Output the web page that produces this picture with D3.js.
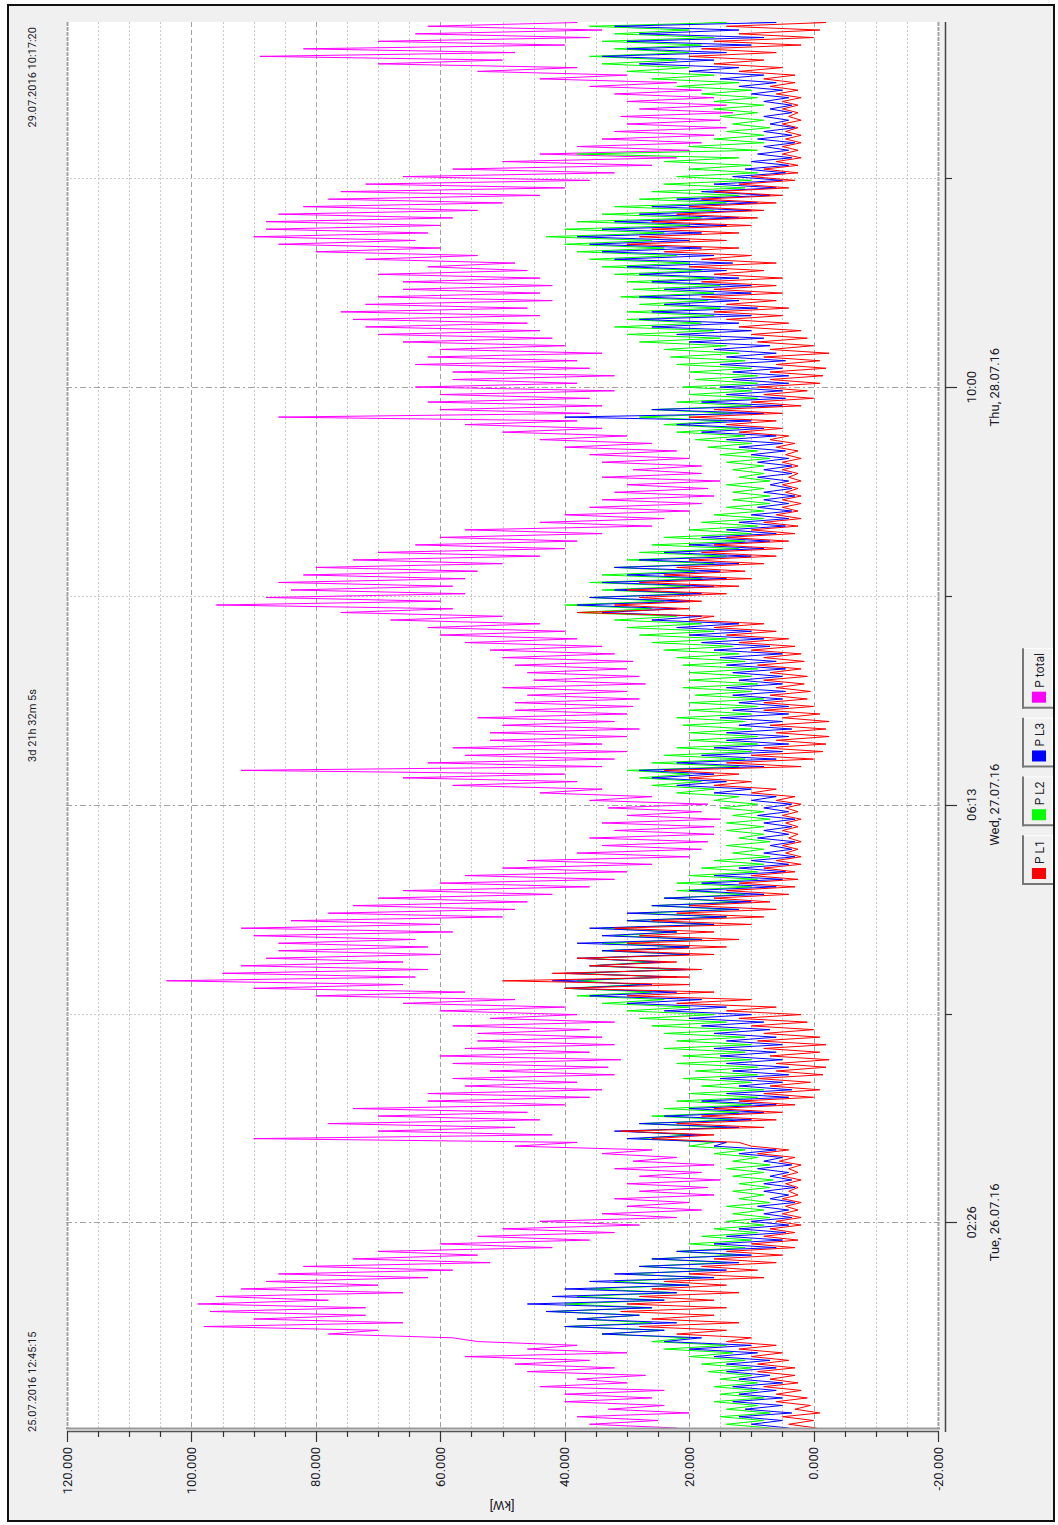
<!DOCTYPE html>
<html>
<head>
<meta charset="utf-8">
<script src="https://cdn.jsdelivr.net/npm/d3@7"></script>
<style>
  html, body { margin: 0; padding: 0; background: #ffffff; }
  svg { display: block; }
  text { font-family: Roboto, "Liberation Sans", sans-serif; fill: #1c1c2a; }
</style>
</head>
<body>
<svg id="chart" width="1058" height="1525"></svg>
<script>
// Power per 30-minute window: lowest and highest reading (kW, thousands)
const stepMinutes = 30;
const startTime = new Date(2016, 6, 25, 12, 45, 15);
const endTime = new Date(2016, 6, 29, 10, 17, 20);

const pTotalLow = [
  22,25,20,24, 26,24,30,27, 32,36,30,38, 58,70,66,72,
  72,78,66,70, 62,58,52,54, 42,36,32,28, 22,18,20,16,
  17,15,18,16, 22,26,38,42, 48,44,46,40, 36,34,38,32,
  33,31,36,32, 34,36,32,38, 40,48,56,66, 64,62,66,60,
  62,64,58,60, 50,48,46,42, 36,32,30,26, 20,18,17,16,
  16,15,18,17, 26,34,38,40, 34,32,30,34, 30,28,32,30,
  29,28,30,27, 28,30,29,32, 34,38,40,44, 50,58,60,56,
  58,56,54,50, 44,40,38,34, 26,24,20,18, 16,17,15,18,
  18,20,22,26, 30,34,38,36, 34,36,32,38, 32,36,38,34,
  40,42,44,46, 44,46,42,44, 42,44,46,48, 54,60,64,62,
  60,58,54,50, 44,40,36,32, 26,22,20,18, 16,14,15,13,
  14,16,18,22, 30,38,50,48, 40,36,34,38
];
const pTotalHigh = [
  36,38,33,40, 40,44,38,46, 48,56,46,54, 78,98,90,97,
  99,96,92,88, 86,82,74,70, 60,54,50,44, 34,30,32,28,
  30,28,32,29, 34,48,90,70, 78,70,74,62, 62,56,58,52,
  58,60,56,54, 54,58,52,60, 66,80,90,104, 95,92,88,86,
  86,90,92,84, 78,74,70,66, 60,56,50,46, 38,34,36,32,
  34,30,33,36, 44,58,66,92, 62,56,58,52, 52,50,54,48,
  48,46,50,45, 46,48,50,52, 56,60,62,68, 76,96,88,84,
  86,82,80,74, 70,64,60,56, 44,40,36,34, 32,30,34,29,
  34,36,40,44, 50,56,86,60, 62,60,64,58, 58,64,62,60,
  66,70,72,74, 76,72,70,66, 66,70,62,72, 80,86,90,88,
  88,86,82,78, 76,72,66,58, 50,44,38,34, 32,30,31,28,
  30,32,36,44, 54,70,89,82, 70,64,62,42
];

const pL1Low = [
  -0.5,0,-1,0.5, 1,2,2.5,3, 3,4,5,6, 10,14,12,16,
  14,16,12,14, 8,9,6,5, 3,2.5,3,2, 2,2.5,2,2.5,
  2.5,2,2.5,2, 3,4,12,16, 8,6,5,3, 0,-1,0.5,-1.5,
  -2,-2.5,-1,-2, -1,0,1,2, 6,10,16,20, 20,18,22,16,
  14,12,16,10, 8,6,7,4, 3,2.5,3,2, 2,2.5,2,2.5,
  2.5,2,2.5,2, 3,6,10,12, 2,0,-1.5,-2, -2.5,-2,-2.5,-1,
  0,1,0.5,1.5, 1,2,1.5,2, 3,4,6,8, 16,20,18,14,
  12,10,11,8, 6,5,4,3, 2.5,2,2.5,2, 2,2.5,2,2.5,
  2.5,2,2.5,3, 4,5,6,5, 2,0,1,-1, -1.5,-2,-1,-2.5,
  0,1,2,4, 5,4,6,5, 6,5,8,6, 10,12,14,12,
  10,9,8,6, 5,4,3,2.5, 2.5,2,2.5,2, 2,2.5,2,2.5,
  2.5,2,2.5,3, 3,5,8,6, 2,0,-1,-2
];
const pL1High = [
  4,5,3,6, 6,8,7,9, 9,10,12,14, 22,28,26,31,
  30,28,26,24, 20,18,16,14, 10,8,7,6, 5,4.5,5,4,
  4.5,5,4,5.5, 9,10,26,31, 22,18,16,12, 8,7,9,6,
  6,7,8,9, 8,10,12,14, 22,30,40,50, 42,36,38,32,
  30,28,32,26, 22,20,16,14, 12,10,8,6, 4.5,5,4,5,
  4.5,5,4.5,6, 10,16,20,24, 14,10,8,6, 6,7,5,8,
  8,7,6,8, 7,9,8,10, 12,14,16,20, 38,32,28,30,
  28,24,22,20, 18,16,14,10, 8,6,5,5, 4.5,5,4,5,
  5,4.5,6,7, 12,14,20,16, 10,8,9,7, 7,6,8,7,
  9,10,12,14, 16,14,18,16, 18,16,20,18, 24,30,28,26,
  26,22,20,18, 16,12,10,8, 6,5,5,4.5, 4.5,5,4,5,
  5,6,7,8, 12,16,20,18, 16,12,14,8
];

const pL2Low = [
  7,8,7,9, 8,9,9,10, 10,11,13,14, 20,24,26,28,
  26,24,22,20, 18,16,14,12, 11,10,9,8, 7,8,7,8,
  7,6.5,8,7, 9,11,16,20, 14,13,12,10, 9,8,10,9,
  9,10,11,10, 11,12,14,16, 20,24,26,28, 24,22,26,20,
  20,18,22,16, 14,13,12,11, 10,9,9,8, 7,8,7,8,
  8,7,8,9, 12,16,18,20, 12,11,10,9, 9,10,11,10,
  9,8,10,9, 10,9,11,12, 13,14,16,18, 22,26,24,20,
  20,18,19,16, 14,12,11,10, 9,8,8,7, 7,8,7,8,
  8,7,9,10, 11,12,14,13, 10,9,10,9, 9,10,11,12,
  14,15,16,18, 16,15,17,16, 15,16,18,20, 22,24,26,24,
  20,18,16,14, 12,11,10,9, 10,12,9,8, 8,7,8,9,
  8,9,10,12, 16,20,22,20, 18,16,20,14
];
const pL2High = [
  14,15,14,16, 15,16,15,17, 18,20,24,26, 34,40,38,42,
  40,38,36,32, 30,28,26,22, 20,18,16,14, 13,14,12,13,
  12,13,14,13, 16,20,28,30, 28,26,24,22, 20,18,21,19,
  22,21,24,22, 24,26,28,30, 34,38,40,38, 38,36,36,34,
  34,32,34,30, 28,26,24,22, 22,20,18,16, 13,14,12,14,
  14,13,15,16, 22,26,28,30, 26,24,22,20, 20,21,22,20,
  20,19,21,20, 20,21,22,24, 26,28,30,32, 38,40,36,34,
  36,34,32,30, 28,26,24,20, 18,16,14,13, 13,14,12,13,
  14,15,17,19, 22,24,28,26, 22,20,21,19, 20,22,23,24,
  28,30,32,30, 30,28,31,29, 30,32,34,36, 38,40,43,40,
  38,34,32,28, 26,24,22,20, 24,38,20,16, 14,13,15,16,
  16,18,22,26, 30,34,36,32, 34,32,36,28
];

const pL3Low = [
  4,5,3.5,5, 5,6,5,7, 6,7,9,10, 18,24,22,28,
  26,24,22,20, 16,14,12,10, 6,5,4.5,4, 3.5,4,3,4,
  3,3.5,4,3.5, 5,6,14,18, 12,10,8,6, 4,3.5,5,4,
  4,5,6,5, 6,7,8,10, 14,18,22,26, 22,20,24,20,
  20,18,22,16, 14,12,10,8, 6,5,4.5,4, 3,3.5,3,4,
  3.5,3,4,3.5, 6,10,14,16, 8,6,5,4, 4,3.5,5,4,
  4,5,4.5,5, 5,4.5,6,5, 7,8,10,12, 18,22,20,18,
  16,14,15,12, 10,8,7,6, 4.5,4,3.5,4, 3,3.5,4,3.5,
  3.5,4,4.5,5, 6,8,10,8, 5,4.5,5,4, 4,5,4.5,6,
  7,8,10,12, 10,9,12,10, 10,12,14,13, 16,18,20,18,
  14,12,10,9, 7,6,5,4.5, 4,3.5,4,3, 3.5,3,4,3.5,
  3.5,4,5,6, 8,12,16,14, 10,8,12,6
];
const pL3High = [
  10,12,11,13, 12,13,12,14, 14,16,20,24, 34,40,38,43,
  46,42,40,36, 32,28,26,22, 16,14,12,10, 8,9,7,8,
  8,7,9,8, 12,16,30,32, 28,24,20,18, 14,12,15,13,
  14,15,16,14, 16,18,20,24, 30,36,40,42, 40,36,38,34,
  38,34,36,30, 30,26,24,20, 18,16,12,10, 8,7,9,8,
  8,9,8,10, 16,22,26,28, 22,18,16,14, 14,12,15,13,
  12,13,14,12, 13,14,15,16, 18,20,22,26, 34,38,36,32,
  34,30,32,28, 24,20,18,14, 12,10,9,8, 8,7,9,8,
  9,10,12,14, 18,22,40,26, 18,14,15,13, 13,15,14,16,
  20,22,26,28, 26,24,28,24, 26,28,30,32, 34,36,38,34,
  32,28,26,22, 18,16,13,11, 10,9,8,9, 8,7,8,7,
  8,10,12,15, 20,28,34,30, 30,28,32,24
];

const seriesNames = ["P L1", "P L2", "P L3", "P total"];
const seriesColors = ["#ff0000", "#00ff00", "#0000ff", "#ff00ff"];
const seriesLow = [pL1Low, pL2Low, pL3Low, pTotalLow];
const seriesHigh = [pL1High, pL2High, pL3High, pTotalHigh];
const drawOrder = [3, 1, 2, 0];

const valueTicks = d3.range(-20, 121, 20);
const valueMinorTicks = d3.range(-20, 121, 5).filter(v => v % 20 !== 0);
const valueTickLabels = ["-20.000", "0.000", "20.000", "40.000", "60.000", "80.000", "100.000", "120.000"];

const timeMajorTicks = [
  new Date(2016, 6, 26, 2, 26), new Date(2016, 6, 27, 6, 13), new Date(2016, 6, 28, 10, 0)
];
const timeMinorTicks = [
  new Date(2016, 6, 26, 16, 19, 30), new Date(2016, 6, 27, 20, 6, 30), new Date(2016, 6, 28, 23, 53, 30)
];
const timeTickLabels = [
  ["02:26", "Tue, 26.07.16"], ["06:13", "Wed, 27.07.16"], ["10:00", "Thu, 28.07.16"]
];
const startLabel = "25.07.2016 12:45:15";
const endLabel = "29.07.2016 10:17:20";
const spanLabel = "3d 21h 32m 5s";
const unitLabel = "[kW]";

// Layout: time runs bottom-to-top, value runs right-to-left
const plot = { left: 66, right: 940, top: 22, bottom: 1429 };
const svg = d3.select("#chart");

const x = d3.scaleLinear().domain([-20, 120]).range([938, 67]);
const y = d3.scaleTime().domain([startTime, endTime]).range([1428, 22]);

// Frame and background
svg.append("rect").attr("x", 0).attr("y", 0).attr("width", 1058).attr("height", 1525).attr("fill", "#ffffff");
svg.append("rect").attr("x", 8).attr("y", 5).attr("width", 1046).attr("height", 1516)
  .attr("fill", "#f0f0f0").attr("stroke", "#111").attr("stroke-width", 2);
svg.append("rect").attr("x", plot.left).attr("y", plot.top)
  .attr("width", plot.right - plot.left).attr("height", plot.bottom - plot.top).attr("fill", "#ffffff");

svg.append("clipPath").attr("id", "plotClip").append("rect")
  .attr("x", plot.left).attr("y", plot.top)
  .attr("width", plot.right - plot.left).attr("height", plot.bottom - plot.top);

// Grid
const grid = svg.append("g");
grid.selectAll(".vminor").data(valueMinorTicks).join("line")
  .attr("x1", d => Math.round(x(d)) + 0.5).attr("x2", d => Math.round(x(d)) + 0.5)
  .attr("y1", plot.top).attr("y2", plot.bottom)
  .attr("stroke", "#c8c8c8").attr("stroke-dasharray", "2,2");
grid.selectAll(".vmajor").data(valueTicks).join("line")
  .attr("x1", d => Math.round(x(d)) + 0.5).attr("x2", d => Math.round(x(d)) + 0.5)
  .attr("y1", plot.top).attr("y2", plot.bottom)
  .attr("stroke", "#a0a0a0")
  .attr("stroke-width", d => (d === 120 || d === -20) ? 2 : 1)
  .attr("stroke-dasharray", d => (d === 120 || d === -20) ? "4,1" : "5,3");
grid.selectAll(".hminor").data(timeMinorTicks).join("line")
  .attr("x1", plot.left).attr("x2", plot.right)
  .attr("y1", d => Math.round(y(d)) + 0.5).attr("y2", d => Math.round(y(d)) + 0.5)
  .attr("stroke", "#c8c8c8").attr("stroke-dasharray", "2,2");
grid.selectAll(".hmajor").data(timeMajorTicks).join("line")
  .attr("x1", plot.left).attr("x2", plot.right)
  .attr("y1", d => Math.round(y(d)) + 0.5).attr("y2", d => Math.round(y(d)) + 0.5)
  .attr("stroke", "#a0a0a0").attr("stroke-dasharray", "6,3,2,3");

// Series: each window draws its low reading, then its high reading half a window later
const halfStep = stepMinutes * 30000;
const line = d3.line().x(d => x(d.v)).y(d => y(d.t));
const lines = svg.append("g").attr("clip-path", "url(#plotClip)");
drawOrder.forEach(k => {
  const pts = [];
  seriesLow[k].forEach((lo, i) => {
    const t0 = startTime.getTime() + i * stepMinutes * 60000;
    pts.push({ t: new Date(t0), v: lo });
    pts.push({ t: new Date(t0 + halfStep), v: seriesHigh[k][i] });
  });
  lines.append("path").datum(pts).attr("d", line)
    .attr("fill", "none").attr("stroke", seriesColors[k]).attr("stroke-width", 1);
});

// Plot bottom edge and value axis
svg.append("line").attr("x1", plot.left).attr("x2", plot.right).attr("y1", 1428.5).attr("y2", 1428.5)
  .attr("stroke", "#9a9a9a").attr("stroke-width", 2);
svg.append("line").attr("x1", 67).attr("x2", 939).attr("y1", 1431.5).attr("y2", 1431.5)
  .attr("stroke", "#555").attr("stroke-width", 1.5);
svg.append("g").selectAll("line").data(valueTicks.concat(valueMinorTicks)).join("line")
  .attr("x1", d => Math.round(x(d)) + 0.5).attr("x2", d => Math.round(x(d)) + 0.5)
  .attr("y1", 1431).attr("y2", d => d % 20 === 0 ? 1442 : 1437)
  .attr("stroke", "#333").attr("stroke-width", 1.2);
svg.append("g").selectAll("text").data(valueTicks).join("text")
  .attr("transform", d => `translate(${x(d)},1447) rotate(-90)`)
  .attr("text-anchor", "end").attr("dominant-baseline", "central")
  .attr("font-size", 13)
  .text((d, i) => valueTickLabels[i]);
svg.append("text").attr("transform", "translate(502,1505) rotate(180)")
  .attr("text-anchor", "middle").attr("dominant-baseline", "central")
  .attr("font-size", 13).text(unitLabel);

// Time axis
svg.append("line").attr("x1", 945.5).attr("x2", 945.5).attr("y1", 22).attr("y2", 1432)
  .attr("stroke", "#444").attr("stroke-width", 1.5);
svg.append("g").selectAll("line").data(timeMajorTicks).join("line")
  .attr("x1", 945).attr("x2", 957)
  .attr("y1", d => Math.round(y(d)) + 0.5).attr("y2", d => Math.round(y(d)) + 0.5)
  .attr("stroke", "#333").attr("stroke-width", 1.2);
svg.append("g").selectAll("line").data(timeMinorTicks).join("line")
  .attr("x1", 945).attr("x2", 952)
  .attr("y1", d => Math.round(y(d)) + 0.5).attr("y2", d => Math.round(y(d)) + 0.5)
  .attr("stroke", "#333").attr("stroke-width", 1.2);
const tl = svg.append("g").selectAll("g").data(timeMajorTicks).join("g");
tl.append("text")
  .attr("transform", d => `translate(971,${y(d)}) rotate(-90)`)
  .attr("text-anchor", "middle").attr("dominant-baseline", "central")
  .attr("font-size", 13).text((d, i) => timeTickLabels[i][0]);
tl.append("text")
  .attr("transform", d => `translate(994,${y(d)}) rotate(-90)`)
  .attr("text-anchor", "middle").attr("dominant-baseline", "central")
  .attr("font-size", 13).text((d, i) => timeTickLabels[i][1]);

// Range captions along the left side
svg.append("text").attr("transform", "translate(32,1432) rotate(-90)")
  .attr("text-anchor", "start").attr("dominant-baseline", "central")
  .attr("font-size", 11).text(startLabel);
svg.append("text").attr("transform", "translate(32,27) rotate(-90)")
  .attr("text-anchor", "end").attr("dominant-baseline", "central")
  .attr("font-size", 11).text(endLabel);
svg.append("text").attr("transform", `translate(32,${(plot.top + plot.bottom) / 2}) rotate(-90)`)
  .attr("text-anchor", "middle").attr("dominant-baseline", "central")
  .attr("font-size", 11).text(spanLabel);

// Legend buttons, stacked upward from the bottom
let cursor = 885;
seriesNames.forEach((name, k) => {
  const g = svg.append("g");
  const label = g.append("text")
    .attr("text-anchor", "start").attr("dominant-baseline", "central")
    .attr("font-size", 12).text(name);
  const tw = label.node().getComputedTextLength();
  const len = 6 + 11 + 4 + tw + 5;
  const y0 = cursor - len;
  g.insert("rect", "text").attr("x", 1022).attr("y", y0).attr("width", 31).attr("height", len)
    .attr("fill", "#f0f0f0");
  g.insert("line", "text").attr("x1", 1022).attr("x2", 1053).attr("y1", y0 + 0.5).attr("y2", y0 + 0.5)
    .attr("stroke", "#ffffff");
  g.insert("line", "text").attr("x1", 1052.5).attr("x2", 1052.5).attr("y1", y0).attr("y2", cursor)
    .attr("stroke", "#ffffff");
  g.insert("line", "text").attr("x1", 1023).attr("x2", 1023).attr("y1", y0).attr("y2", cursor)
    .attr("stroke", "#777").attr("stroke-width", 2);
  g.insert("line", "text").attr("x1", 1022).attr("x2", 1053).attr("y1", cursor - 1).attr("y2", cursor - 1)
    .attr("stroke", "#777").attr("stroke-width", 2);
  g.append("rect").attr("x", 1032).attr("y", cursor - 6 - 11).attr("width", 14).attr("height", 11)
    .attr("fill", seriesColors[k]);
  label.attr("transform", `translate(1040,${cursor - 6 - 11 - 4}) rotate(-90)`);
  cursor = y0 - 9;
});
</script>
</body>
</html>
